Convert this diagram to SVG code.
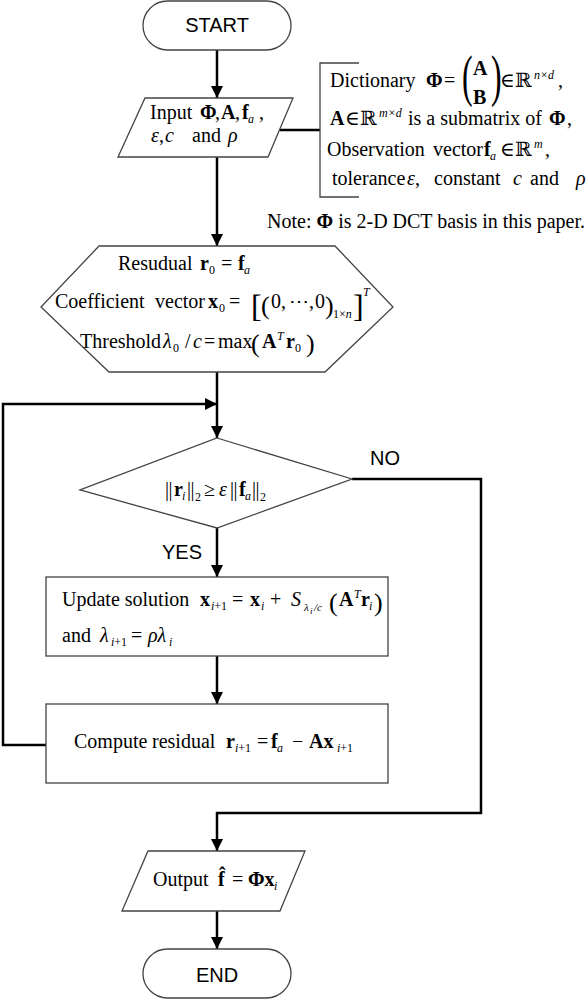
<svg xmlns="http://www.w3.org/2000/svg" width="587" height="1000" viewBox="0 0 587 1000">
<defs>
<style>
.shape{fill:#fff;stroke:#444;stroke-width:1.3}
.ln{fill:none;stroke:#000;stroke-width:2.5}
.t{font-family:"Liberation Serif","DejaVu Serif",serif;font-size:20px;fill:#000}
.sans{font-family:"Liberation Sans",Arial,sans-serif;font-size:20px;fill:#000}
.b{font-weight:bold}
.i{font-style:italic}
.s{font-size:12px}
.xs{font-size:9px}
</style>
<marker id="ah" viewBox="0 0 12 12" refX="12" refY="6" markerWidth="12" markerHeight="12" orient="auto" markerUnits="userSpaceOnUse"><path d="M0,0 L12,6 L0,12 z" fill="#000"/></marker>
</defs>
<rect width="587" height="1000" fill="#fff"/>

<g id="connectors">
<path class="ln" d="M217,50 V98" marker-end="url(#ah)"/>
<path class="ln" d="M280,130 H320"/>
<path class="ln" d="M217,157 V246" marker-end="url(#ah)"/>
<path class="ln" d="M217,372 V438" marker-end="url(#ah)"/>
<path class="ln" d="M46,745 H3 V404 H217" marker-end="url(#ah)"/>
<path class="ln" d="M217,528 V577" marker-end="url(#ah)"/>
<path class="ln" d="M217,656 V704" marker-end="url(#ah)"/>
<path class="ln" d="M352,479 H481 V813 H217 V851" marker-end="url(#ah)"/>
<path class="ln" d="M217,911 V949" marker-end="url(#ah)"/>
</g>

<g id="start">
<rect class="shape" x="143" y="1" width="148" height="49" rx="24.5"/>
<text class="sans" x="217" y="32" text-anchor="middle">START</text>
</g>

<g id="input">
<polygon class="shape" points="145,98 293,98 268,157 118,157"/>
<text class="t" y="119"><tspan x="150">Input</tspan><tspan x="200" class="b">Φ</tspan><tspan x="215">,</tspan><tspan x="221" class="b">A</tspan><tspan x="235">,</tspan><tspan x="242" class="b">f</tspan><tspan x="248" y="123" class="i s">a</tspan><tspan x="259" y="119">,</tspan></text>
<text class="t" y="142"><tspan x="151" class="i">ε</tspan><tspan x="159">,</tspan><tspan x="165" class="i">c</tspan><tspan x="192">and</tspan><tspan x="228" class="i">ρ</tspan></text>
</g>

<g id="note">
<path d="M359,63 H320 V197 H359" fill="none" stroke="#444" stroke-width="1.3"/>
<text class="t" y="87"><tspan x="330">Dictionary</tspan><tspan x="426" class="b">Φ</tspan><tspan x="444">=</tspan><tspan x="500">∈</tspan><tspan x="515">ℝ</tspan><tspan x="534" y="79" class="i s">n×d</tspan><tspan x="558" y="87">,</tspan></text>
<text class="t" transform="translate(462,95) scale(0.55,1)" style="font-size:58px">(</text>
<text class="t" transform="translate(491,95) scale(0.55,1)" style="font-size:58px">)</text>
<text class="t b" x="473" y="75">A</text>
<text class="t b" x="473" y="104">B</text>
<text class="t" y="125"><tspan x="330" class="b">A</tspan><tspan x="345">∈</tspan><tspan x="360">ℝ</tspan><tspan x="379" y="117" class="i s">m×d</tspan><tspan x="408" y="125">is a submatrix of</tspan><tspan x="549" class="b">Φ</tspan><tspan x="567">,</tspan></text>
<text class="t" y="156"><tspan x="327">Observation</tspan><tspan x="433">vector</tspan><tspan x="484" class="b">f</tspan><tspan x="490" y="160" class="i s">a</tspan><tspan x="500" y="156">∈</tspan><tspan x="515">ℝ</tspan><tspan x="534" y="148" class="i s">m</tspan><tspan x="545" y="156">,</tspan></text>
<text class="t" y="185"><tspan x="332">tolerance</tspan><tspan x="407" class="i">ε</tspan><tspan x="415">,</tspan><tspan x="434">constant</tspan><tspan x="513" class="i">c</tspan><tspan x="530">and</tspan><tspan x="576" class="i">ρ</tspan></text>
<text class="t" x="585" y="228" text-anchor="end">Note: <tspan class="b">Φ</tspan> is 2-D DCT basis in this paper.</text>
</g>

<g id="init">
<polygon class="shape" points="99,246 335,246 393,307 325,372 109,372 41,307"/>
<text class="t" y="270"><tspan x="118">Resudual</tspan><tspan x="200" class="b">r</tspan><tspan x="209" y="274" class="s">0</tspan><tspan x="221" y="270">=</tspan><tspan x="238" class="b">f</tspan><tspan x="244" y="274" class="i s">a</tspan></text>
<text class="t" y="308"><tspan x="55">Coefficient</tspan><tspan x="155">vector</tspan><tspan x="208" class="b">x</tspan><tspan x="219" y="312" class="s">0</tspan><tspan x="229" y="308">=</tspan><tspan x="271">0,</tspan><tspan x="289">⋯</tspan><tspan x="309">,</tspan><tspan x="315">0</tspan><tspan x="333" y="318" class="s">1×<tspan class="i">n</tspan></tspan></text>
<text class="t" x="251" y="317" style="font-size:32px">[</text>
<text class="t" x="353" y="317" style="font-size:32px">]</text>
<text class="t" x="261" y="314" style="font-size:26px">(</text>
<text class="t" x="325" y="314" style="font-size:26px">)</text>
<text class="t i s" x="363" y="296">T</text>
<text class="t" y="348"><tspan x="80">Threshold</tspan><tspan x="163" class="i">λ</tspan><tspan x="173" y="352" class="s">0</tspan><tspan x="185" y="348">/</tspan><tspan x="193" class="i">c</tspan><tspan x="204">=</tspan><tspan x="218">max</tspan><tspan x="262" class="b">A</tspan><tspan x="277" y="340" class="i s">T</tspan><tspan x="286" y="348" class="b">r</tspan><tspan x="295" y="352" class="s">0</tspan></text>
<text class="t" x="251" y="352" style="font-size:26px">(</text>
<text class="t" x="306" y="352" style="font-size:26px">)</text>
</g>

<g id="decision">
<polygon class="shape" points="217,438 352,479 217,528 80,490"/>
<text class="t" y="496"><tspan x="165">|</tspan><tspan x="168.5">|</tspan><tspan x="174" class="b">r</tspan><tspan x="182" y="500" class="i s">i</tspan><tspan x="187" y="496">|</tspan><tspan x="190.5">|</tspan><tspan x="195" y="501" class="s">2</tspan><tspan x="204" y="496">≥</tspan><tspan x="219" class="i">ε</tspan><tspan x="230">|</tspan><tspan x="233.5">|</tspan><tspan x="239" class="b">f</tspan><tspan x="245" y="500" class="i s">a</tspan><tspan x="252" y="496">|</tspan><tspan x="255.5">|</tspan><tspan x="260" y="501" class="s">2</tspan></text>
<text class="sans" x="370" y="465">NO</text>
<text class="sans" x="162" y="559">YES</text>
</g>

<g id="update">
<rect class="shape" x="46" y="577" width="342" height="79"/>
<text class="t" y="606"><tspan x="62">Update solution</tspan><tspan x="200" class="b">x</tspan><tspan x="211" y="610" class="i s">i<tspan font-style="normal">+1</tspan></tspan><tspan x="232" y="606">=</tspan><tspan x="250" class="b">x</tspan><tspan x="261" y="610" class="i s">i</tspan><tspan x="270" y="606">+</tspan><tspan x="291" class="i">S</tspan><tspan x="304" y="611" class="i" style="font-size:11px">λ</tspan><tspan x="310" y="614" class="i xs">i</tspan><tspan x="314" y="611" class="i" style="font-size:11px">/c</tspan><tspan x="339" y="606" class="b">A</tspan><tspan x="354" y="598" class="i s">T</tspan><tspan x="361" y="606" class="b">r</tspan><tspan x="369" y="610" class="i s">i</tspan></text>
<text class="t" x="329" y="611" style="font-size:26px">(</text>
<text class="t" x="374" y="611" style="font-size:26px">)</text>
<text class="t" y="642"><tspan x="62">and</tspan><tspan x="100" class="i">λ</tspan><tspan x="111" y="646" class="i s">i<tspan font-style="normal">+1</tspan></tspan><tspan x="131" y="642">=</tspan><tspan x="148" class="i">ρλ</tspan><tspan x="169" y="646" class="i s">i</tspan></text>
</g>

<g id="compute">
<rect class="shape" x="46" y="704" width="342" height="79"/>
<text class="t" y="748"><tspan x="74">Compute</tspan><tspan x="152">residual</tspan><tspan x="226" class="b">r</tspan><tspan x="235" y="752" class="i s">i<tspan font-style="normal">+1</tspan></tspan><tspan x="257" y="748">=</tspan><tspan x="271" class="b">f</tspan><tspan x="277" y="752" class="i s">a</tspan><tspan x="292" y="748">−</tspan><tspan x="309" class="b">Ax</tspan><tspan x="337" y="752" class="i s">i<tspan font-style="normal">+1</tspan></tspan></text>
</g>

<g id="output">
<polygon class="shape" points="148,851 305,851 280,911 122,911"/>
<text class="t" y="886"><tspan x="153">Output</tspan><tspan x="218" class="b">f̂</tspan><tspan x="232">=</tspan><tspan x="248" class="b">Φx</tspan><tspan x="274" y="890" class="i s">i</tspan></text>
</g>

<g id="end">
<rect class="shape" x="143" y="949" width="148" height="49" rx="24.5"/>
<text class="sans" x="217" y="982" text-anchor="middle">END</text>
</g>
</svg>
